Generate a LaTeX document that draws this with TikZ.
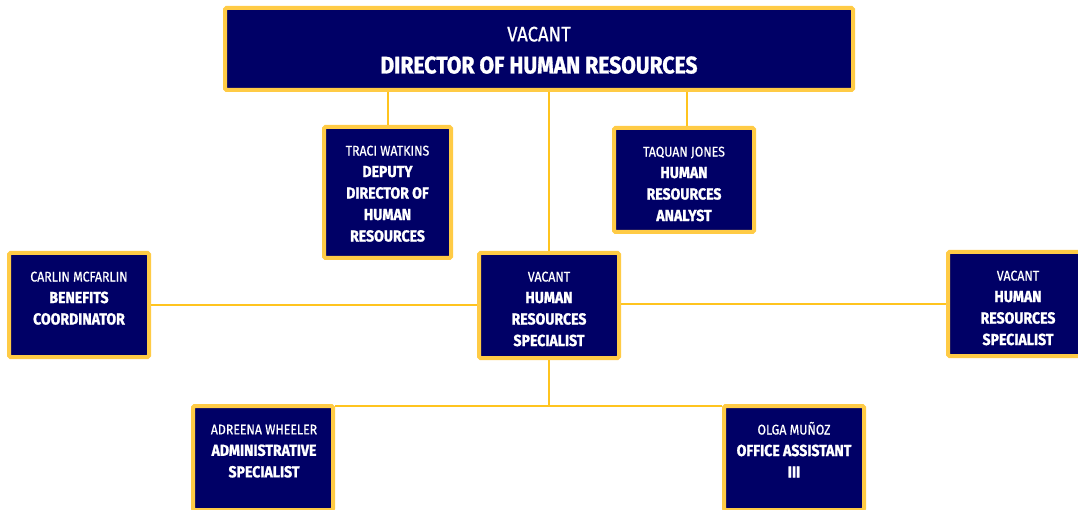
\documentclass[tikz,border=0pt]{standalone}
\usepackage{fontspec}
\setmainfont{Fira Sans}[FakeStretch=0.88,UprightFeatures={FakeBold=0.6},BoldFeatures={FakeBold=1.2}]
\definecolor{navy}{HTML}{000066}
\definecolor{gold}{HTML}{FFCB45}
\definecolor{wirec}{HTML}{FFC41F}
\newcommand\nm[1]{{\fontsize{14}{21.5}\selectfont #1}}
\newcommand\tl[1]{{\fontsize{16}{21.5}\selectfont\bfseries #1}}
\begin{document}
\begin{tikzpicture}[x=1pt,y=-1pt,
  box/.style={draw=gold, line width=4pt, fill=navy, rounded corners=1.5pt, inner sep=0pt,
    minimum width=140pt, minimum height=104pt},
  txt/.style={text=white, align=center, anchor=north, inner sep=0pt,
    font=\fontsize{14}{21.5}\selectfont},
  wire/.style={draw=wirec, line width=2pt}]
\useasboundingbox (0,0) rectangle (1078,510);
% boxes
\node[box, minimum width=628pt, minimum height=82pt] (dir) at (539,49) {};
\node[box, minimum width=127pt, minimum height=131pt] (dep) at (387.5,192.5) {};
\node[box] (ana) at (684,180) {};
\node[box] (ben) at (79,305) {};
\node[box, minimum height=105pt] (hrs) at (549,305.5) {};
\node[box] (hrs2) at (1018,304) {};
\node[box] (adm) at (263,458) {};
\node[box] (off) at (794,458) {};
% connectors
\coordinate (bus) at (549,406);
\draw[wire] (dir.south -| dep.north) -- (dep.north);
\draw[wire] (dir.south -| hrs.north) -- (hrs.north);
\draw[wire] (dir.south -| 687,0) -- (687,0 |- ana.north);
\draw[wire] (ben.east) -- (ben.east -| hrs.west);
\draw[wire] (hrs.east |- hrs2.west) -- (hrs2.west);
\draw[wire] (hrs.south) -- (hrs.south |- bus);
\draw[wire] (adm.east |- bus) -- (off.west |- bus);
% texts
\node[txt, font=\fontsize{21}{32}\selectfont] (dirt) at (539,26.5)
  {VACANT\\{\fontsize{24}{32}\selectfont\bfseries DIRECTOR OF HUMAN RESOURCES}};
\node[txt] (dept) at (387.5,145.5)
  {\nm{TRACI WATKINS}\\\tl{DEPUTY}\\\tl{DIRECTOR OF}\\\tl{HUMAN}\\\tl{RESOURCES}};
\node[txt] (anat) at (684,146.5)
  {\nm{TAQUAN JONES}\\\tl{HUMAN}\\\tl{RESOURCES}\\\tl{ANALYST}};
\node[txt] (bent) at (79,271.5)
  {\nm{CARLIN MCFARLIN}\\\tl{BENEFITS}\\\tl{COORDINATOR}};
\node[txt] (hrst) at (549,271.5)
  {\nm{VACANT}\\\tl{HUMAN}\\\tl{RESOURCES}\\\tl{SPECIALIST}};
\node[txt] (hrs2t) at (1018,270.5)
  {\nm{VACANT}\\\tl{HUMAN}\\\tl{RESOURCES}\\\tl{SPECIALIST}};
\node[txt] (admt) at (264,424.5)
  {\nm{ADREENA WHEELER}\\\tl{ADMINISTRATIVE}\\\tl{SPECIALIST}};
\node[txt] (offt) at (794,424.5)
  {\nm{OLGA MU\smash{Ñ}OZ}\\\tl{OFFICE ASSISTANT}\\\tl{III}};
\end{tikzpicture}
\end{document}
